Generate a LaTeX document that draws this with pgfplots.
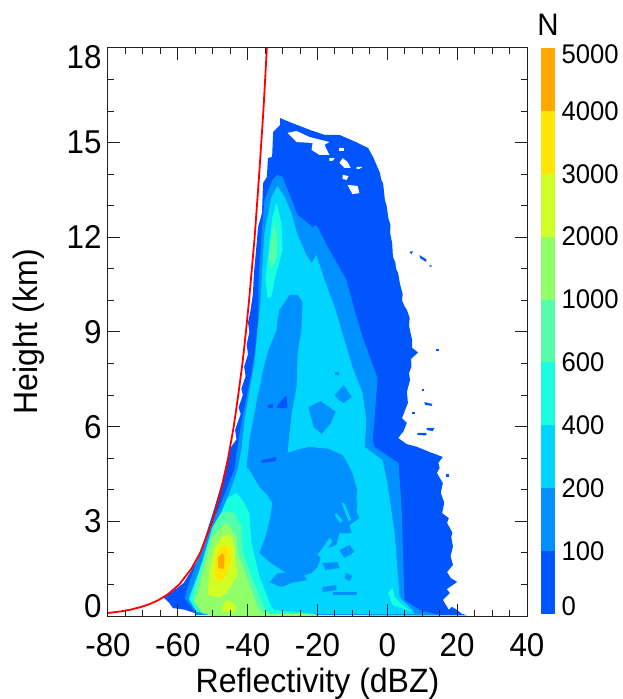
\documentclass[border=0pt]{standalone}
\usepackage{pgfplots}
\usepackage{fontspec}
\setmainfont[FakeStretch=0.95]{Liberation Sans}
\pgfplotsset{compat=1.18}
\definecolor{la}{HTML}{0055FF}
\definecolor{lb}{HTML}{0090FF}
\definecolor{lc}{HTML}{00D5FF}
\definecolor{ld}{HTML}{15FFE0}
\definecolor{le}{HTML}{55FFAA}
\definecolor{lf}{HTML}{90FF6A}
\definecolor{lg}{HTML}{D0FF25}
\definecolor{lh}{HTML}{FFE600}
\definecolor{li}{HTML}{FFA800}
\definecolor{axc}{HTML}{222222}
\newcommand{\ylab}[2]{\raisebox{#1}[0.72em][0pt]{#2}}
\begin{document}
\begin{tikzpicture}[x=1pt,y=1pt]
\useasboundingbox (-108pt,-83pt) rectangle (514pt,616pt);
\begin{axis}[
  at={(0pt,0pt)},anchor=south west,
  scale only axis,width=419pt,height=568pt,
  xmin=-80,xmax=40,ymin=0,ymax=18,
  axis on top,
  axis line style={color=axc,line width=1pt},
  xtick={-80,-60,-40,-20,0,20,40},
  xticklabels={-80,-60,-40,-20,0,20,40},
  ytick={0,3,6,9,12,15,18},
  yticklabels={\ylab{10pt}{0},3,6,9,12,15,\ylab{-9pt}{18}},
  minor x tick num=3,minor y tick num=2,
  tick align=inside,
  major tick length=12pt,minor tick length=6pt,
  tick style={color=axc,line width=1pt},
  tick label style={font=\fontsize{33}{36}\selectfont},
  xticklabel style={yshift=-14pt},
  yticklabel style={xshift=-3pt},
  xlabel={Reflectivity (dBZ)},
  ylabel={Height (km)},
  label style={font=\fontsize{33.7}{37}\selectfont},
  xlabel style={at={(axis description cs:0.5,0)},anchor=base,yshift=-76pt},
  ylabel style={at={(axis description cs:0,0.5)},anchor=base,yshift=70pt},
  every axis plot/.append style={no marks,forget plot},
]
% count >= 0
\addplot[fill=la,draw=none] coordinates {(-64.2,0.6)(-62.5,0.42)(-61.4,0.25)(-58,0.2)(-55.1,0.09)(-49.9,0.03)(22.8,0.02)(21.2,0.08)(20,0.19)(18.5,0.29)(17.6,0.2)(15.9,0.51)(17.9,0.73)(17,0.85)(20,1.08)(18.2,1.2)(17.1,1.39)(18.8,1.62)(18.1,1.9)(18.8,2.2)(18.3,2.5)(18.6,2.65)(17.1,2.95)(17.6,3.1)(15.7,3.26)(16.3,3.6)(15.3,3.9)(15.9,4.21)(14.2,4.53)(15,4.7)(14.6,4.85)(15.9,5.04)(12,5.2)(8.5,5.36)(5.5,5.45)(3.1,5.64)(4.6,5.85)(5.6,6.12)(4.2,6.27)(5,6.5)(5.9,6.75)(5.6,7.1)(6.5,7.48)(6.2,7.7)(6.9,7.9)(6.8,8.15)(8.8,8.35)(7.1,8.5)(7.1,8.75)(6.2,9.2)(6.4,9.45)(5.6,9.7)(5,9.8)(4.2,10.01)(4.4,10.2)(3.9,10.4)(3.5,10.6)(3.1,10.87)(2.5,11)(2.3,11.2)(1.6,11.38)(1.4,11.8)(0.8,12.14)(0.9,12.4)(0.3,12.6)(-0.2,13)(-0.7,13.18)(-1.2,13.7)(-1.8,13.85)(-2.1,14.04)(-4.1,14.55)(-5.5,14.83)(-9,15.02)(-13.6,15.24)(-18,15.25)(-22.1,15.4)(-27.9,15.65)(-30.7,15.78)(-30.7,15.56)(-32.7,15.34)(-33,14.55)(-34.2,14.51)(-34.5,13.91)(-35.6,13.72)(-35.9,12.77)(-37,12.33)(-37.6,11.6)(-38.2,10.87)(-38.5,10.2)(-39.3,9.6)(-39.9,9.3)(-39.5,9)(-40.3,8.6)(-39.9,8.3)(-41,7.9)(-40.6,7.6)(-41.8,7.2)(-41.4,7)(-42.6,6.6)(-42,6.4)(-43.6,5.9)(-43.2,5.6)(-45.1,5.3)(-47.2,4.31)(-49.7,3.36)(-54.3,1.77)(-58.3,1.05)(-63.6,0.6)} --cycle;
% holes at the top of the echo
\addplot[fill=white,draw=none] coordinates {(-28.6,15.31)(-26,15.37)(-22.3,15.18)(-16.6,15.02)(-18,14.93)(-16.6,14.61)(-19.4,14.61)(-21.7,14.77)(-21.4,14.99)(-26,15.02)} --cycle;
\addplot[fill=white,draw=none] coordinates {(-12.8,14.51)(-11.4,14.39)(-10.5,14.2)(-12.3,14.2)(-13.7,14.36)} --cycle;
\addplot[fill=white,draw=none] coordinates {(-11.4,13.66)(-8.5,13.63)(-8,13.4)(-10,13.37)} --cycle;
\addplot[fill=white,draw=none] coordinates {(-12.8,13.98)(-11.1,13.94)(-11.7,13.82)(-12.8,13.85)} --cycle;
\addplot[fill=white,draw=none] coordinates {(-13.7,14.83)(-12.3,14.83)(-12.3,14.74)(-13.7,14.74)} --cycle;
\addplot[fill=white,draw=none] coordinates {(-8.8,14.23)(-7.1,14.23)(-8,14.17)(-8.8,14.17)} --cycle;
\addplot[fill=white,draw=none] coordinates {(-16.6,14.51)(-15.1,14.51)(-15.7,14.42)(-16.6,14.42)} --cycle;
% detached patches on the right
\addplot[fill=la,draw=none] coordinates {(6.3,11.54)(7.3,11.56)(7,11.46)} --cycle;
\addplot[fill=la,draw=none] coordinates {(9.2,11.44)(11.2,11.3)(11.1,11.22)(9.4,11.34)} --cycle;
\addplot[fill=la,draw=none] coordinates {(12,11.12)(12.8,11.1)(12.4,11.05)} --cycle;
\addplot[fill=la,draw=none] coordinates {(10.6,6.78)(12.9,6.72)(12.7,6.66)(10.8,6.69)} --cycle;
\addplot[fill=la,draw=none] coordinates {(9.8,7.19)(10.6,7.19)(10.6,7.13)(9.8,7.13)} --cycle;
\addplot[fill=la,draw=none] coordinates {(8.6,5.8)(11.2,5.8)(11.2,5.72)(8.6,5.74)} --cycle;
\addplot[fill=la,draw=none] coordinates {(11.2,5.96)(13.5,5.96)(13,5.86)(11.4,5.89)} --cycle;
\addplot[fill=la,draw=none] coordinates {(7,6.48)(8,6.48)(8,6.4)(7,6.4)} --cycle;
\addplot[fill=la,draw=none] coordinates {(14,8.46)(14.9,8.46)(14.9,8.4)(14,8.4)} --cycle;
\addplot[fill=la,draw=none] coordinates {(16.8,4.5)(17.6,4.5)(17.6,4.42)(16.8,4.42)} --cycle;
% count >= 100
\addplot[fill=lb,draw=none] coordinates {(-54.6,0.03)(14.9,0.03)(9.2,0.19)(4.9,0.51)(4.1,3.45)(3.2,4.85)(-3.7,5.36)(-4.2,5.58)(-3.7,6.21)(-2.8,7.54)(-7.1,8.84)(-9.4,9.7)(-11.7,10.65)(-16.6,11.6)(-20.3,12.39)(-21.4,12.33)(-25.7,12.71)(-30,13.91)(-31.5,13.98)(-32.9,13.82)(-35.2,13.18)(-36,12.14)(-36.9,10.55)(-36.9,9.6)(-37.5,8.75)(-38.9,7.7)(-40.3,6.94)(-41.8,6.12)(-42.9,5.36)(-43.8,4.63)(-45.2,4.25)(-48.1,3.45)(-50.9,2.82)(-54.4,1.77)(-57.2,0.92)(-58.1,0.57)(-56.1,0.29)} --cycle;
% count >= 200
\addplot[fill=lc,draw=none] coordinates {(-56.9,0.57)(-54.9,0.19)(-52.4,0.06)(7.8,0.06)(7.2,0.19)(3.5,0.6)(2.1,2.63)(0,4.21)(-1.4,4.94)(-6.5,5.36)(-6,6.21)(-7.1,7.07)(-10,7.89)(-12.3,8.75)(-15.1,9.79)(-18,10.65)(-20.3,11.44)(-21.7,11.19)(-23.2,11.44)(-25.7,12.07)(-27.5,12.77)(-29.4,13.28)(-31.5,13.63)(-33.2,13.28)(-35.2,12.14)(-35.8,11.06)(-36,10.65)(-36.3,10.01)(-37.2,9.06)(-38,8.02)(-39.5,7.16)(-40.9,6.21)(-41.8,5.26)(-42.9,4.63)(-46.6,3.45)(-50.1,2.57)(-52.9,1.68)} --cycle;
% areas below 200 inside it
\addplot[fill=lb,draw=none] coordinates {(-28.6,5.17)(-25.5,5.28)(-22.3,5.36)(-17,5.3)(-12.8,5.1)(-11.5,4.85)(-10,4.53)(-9.2,4.2)(-8.6,3.99)(-8.9,3.75)(-8.6,3.52)(-8.8,3.3)(-8,3.11)(-10.8,2.88)(-10.3,2.63)(-13.7,2.63)(-14.6,2.25)(-17.1,2.15)(-18.9,1.9)(-20,1.55)(-21.7,1.36)(-25.2,1.24)(-29.4,1.39)(-33.7,1.71)(-36.6,2)(-35.8,2.25)(-35.2,2.41)(-34.3,2.75)(-33.7,3.04)(-32.9,3.58)(-34.5,3.85)(-36.6,4.09)(-39.5,4.63)(-40.3,4.72)(-39.5,5.58)(-38,6.43)(-37.2,6.94)(-36.4,7.3)(-35.8,7.7)(-34.6,8.21)(-33.8,8.5)(-31.7,9.06)(-31.4,9.4)(-30.9,9.7)(-28,10.17)(-25.7,10.17)(-24.3,9.95)(-24.6,9.06)(-25.2,8.7)(-25.7,8.33)(-26,7.26)(-27.4,6.43)} --cycle;
\addplot[fill=lb,draw=none] coordinates {(-33.8,1.07)(-31.5,1.36)(-24.6,1.39)(-22.9,1.14)(-27.4,1.05)(-30.3,0.92)} --cycle;
\addplot[fill=lb,draw=none] coordinates {(-22.6,6.62)(-19.1,6.81)(-14.8,6.47)(-16.3,6.09)(-18.8,5.77)(-21.1,5.99)} --cycle;
\addplot[fill=lb,draw=none] coordinates {(-15.1,7.0)(-12.5,7.32)(-10.2,6.94)(-12.5,6.75)(-13.9,6.85)} --cycle;
\addplot[fill=lb,draw=none] coordinates {(-15.1,7.73)(-13.7,7.73)(-13.7,7.63)(-15.1,7.63)} --cycle;
\addplot[fill=lb,draw=none] coordinates {(-18.6,0.92)(-14.6,0.98)(-14.6,0.82)(-18.6,0.76)} --cycle;
\addplot[fill=lb,draw=none] coordinates {(-15.7,0.76)(-8.8,0.76)(-8.8,0.67)(-15.7,0.67)} --cycle;
\addplot[fill=lb,draw=none] coordinates {(-11.7,1.36)(-10,1.27)(-10.8,1.11)(-12.3,1.2)} --cycle;
\addplot[fill=lb,draw=none] coordinates {(-18.6,1.68)(-14.3,1.71)(-13.7,1.52)(-17.7,1.46)} --cycle;
\addplot[fill=lb,draw=none] coordinates {(-13.7,2.09)(-10.8,2.25)(-9.4,2.03)(-12.3,1.84)} --cycle;
% count >= 200 inside the blob
\addplot[fill=lc,draw=none] coordinates {(-13.1,3.58)(-12.3,3.58)(-10.3,3.04)(-11.1,3.01)} --cycle;
\addplot[fill=lc,draw=none] coordinates {(-14.6,3.26)(-12.8,3.04)(-13.4,2.95)(-15.1,3.2)} --cycle;
\addplot[fill=lc,draw=none] coordinates {(-20,1.93)(-16.6,2.47)(-15.7,2.38)(-18.9,1.84)} --cycle;
% holes of 0-100 within 100-200
\addplot[fill=la,draw=none] coordinates {(-31.4,6.69)(-28.9,7)(-28.6,6.59)(-31.7,6.59)} --cycle;
\addplot[fill=la,draw=none] coordinates {(-34.2,6.69)(-32.8,6.72)(-32.8,6.59)(-34.2,6.59)} --cycle;
\addplot[fill=la,draw=none] coordinates {(-36,4.94)(-31.7,5.04)(-32,4.91)(-36,4.85)} --cycle;
% count >= 400
\addplot[fill=ld,draw=none] coordinates {(-56.7,0.51)(-54.6,0.13)(-50,0.02)(-22,0.02)(-22,0.08)(-32.3,0.19)(-33.2,0.29)(-36.6,1.24)(-38.9,2.31)(-39.5,3.26)(-41.5,3.68)(-43.2,3.9)(-45.8,3.74)(-47.5,3.3)(-50.1,2.82)(-52.9,1.77)(-55.8,0.82)} --cycle;
\addplot[fill=ld,draw=none] coordinates {(-34.3,10.08)(-34.9,10.65)(-33.7,11.92)(-32.9,12.64)(-31.7,13.09)(-30.3,12.45)(-30,11.6)(-32.3,10.65)(-33.2,10.11)} --cycle;
\addplot[fill=ld,draw=none] coordinates {(0.2,0.73)(1.5,0.89)(2.1,0.6)(4.3,0.35)(7.2,0.13)(1.5,0.35)} --cycle;
% count >= 600
\addplot[fill=le,draw=none] coordinates {(-55.8,0.51)(-53.2,0.1)(-50,0.01)(-21,0.01)(-21,0.06)(-33.7,0.06)(-35.2,0.25)(-38.9,1.24)(-41.5,2.09)(-41.8,2.82)(-43.8,3.26)(-45.2,3.3)(-47.5,3.26)(-49.5,2.88)(-51.8,2.09)(-54.6,1.05)} --cycle;
\addplot[fill=le,draw=none] coordinates {(-33.2,10.96)(-34,11.38)(-33.2,12.01)(-32.3,12.55)(-31.5,11.92)(-31.7,11.38)} --cycle;
% count >= 1000
\addplot[fill=lf,draw=none] coordinates {(-55.2,0.44)(-52.9,0.1)(-50,0)(-20.3,0)(-20.3,0.05)(-35.8,0.08)(-37.2,0.29)(-40.3,1.24)(-42.9,2)(-43.2,2.5)(-45.8,2.95)(-47.5,2.82)(-50.1,2.5)(-52.4,1.55)(-54.4,0.73)} --cycle;
% count >= 2000
\addplot[fill=lg,draw=none] coordinates {(-45.7,2.57)(-47.5,2.5)(-49.5,2.15)(-50.9,1.46)(-51.5,0.67)(-48.1,0.57)(-45.8,0.76)(-44.6,0.98)(-42.9,1.3)(-43.8,1.93)(-43.5,2.09)(-44.6,2.5)} --cycle;
\addplot[fill=lg,draw=none] coordinates {(-47.5,0.29)(-45.8,0.51)(-44.1,0.41)(-43.2,0.29)(-43.8,0.1)(-46.9,0.13)} --cycle;
% count >= 3000
\addplot[fill=lh,draw=none] coordinates {(-46.6,2.25)(-48.1,2.19)(-49.2,1.84)(-49.5,1.24)(-47.5,1.08)(-45.8,1.36)(-44.6,1.87)(-44.9,2.15)} --cycle;
% count >= 4000
\addplot[fill=li,draw=none] coordinates {(-47.2,2)(-48.6,1.84)(-48.4,1.52)(-46.9,1.49)(-46.6,1.87)} --cycle;
% sensitivity curve
\addplot[red,line width=1.8pt] coordinates {(-80,0.095)(-79.6,0.1)(-76.1,0.15)(-73.6,0.2)(-70.1,0.3)(-67.6,0.4)(-65.6,0.5)(-62.7,0.7)(-59.6,1)(-56.1,1.5)(-53.6,2)(-50.1,3)(-47.6,4)(-45.6,5)(-44,6)(-42.7,7)(-41.5,8)(-40.5,9)(-39.6,10)(-38,12)(-36.7,14)(-35.5,16)(-34.5,18)};
\end{axis}
\begin{axis}[
  at={(433pt,2pt)},anchor=south west,
  scale only axis,width=14pt,height=566pt,
  xmin=0,xmax=1,ymin=0,ymax=9,
  xtick=\empty,
  axis line style={draw=none},
  ytick={0,1,2,3,4,5,6,7,8,9},
  yticklabels={\ylab{8pt}{0},100,200,400,600,1000,2000,3000,4000,\ylab{-6pt}{5000}},
  yticklabel pos=right,
  yticklabel style={xshift=3pt},
  tick style={draw=none},
  major tick length=0pt,
  tick label style={font=\fontsize{27}{30}\selectfont},
  title={N},
  title style={at={(axis description cs:0.5,1)},anchor=base,yshift=7pt,font=\fontsize{31}{34}\selectfont},
  every axis plot/.append style={no marks,forget plot,draw=none},
]
\addplot[fill=la] coordinates {(0,0)(1,0)(1,1)(0,1)} --cycle;
\addplot[fill=lb] coordinates {(0,1)(1,1)(1,2)(0,2)} --cycle;
\addplot[fill=lc] coordinates {(0,2)(1,2)(1,3)(0,3)} --cycle;
\addplot[fill=ld] coordinates {(0,3)(1,3)(1,4)(0,4)} --cycle;
\addplot[fill=le] coordinates {(0,4)(1,4)(1,5)(0,5)} --cycle;
\addplot[fill=lf] coordinates {(0,5)(1,5)(1,6)(0,6)} --cycle;
\addplot[fill=lg] coordinates {(0,6)(1,6)(1,7)(0,7)} --cycle;
\addplot[fill=lh] coordinates {(0,7)(1,7)(1,8)(0,8)} --cycle;
\addplot[fill=li] coordinates {(0,8)(1,8)(1,9)(0,9)} --cycle;
\end{axis}
\end{tikzpicture}
\end{document}
